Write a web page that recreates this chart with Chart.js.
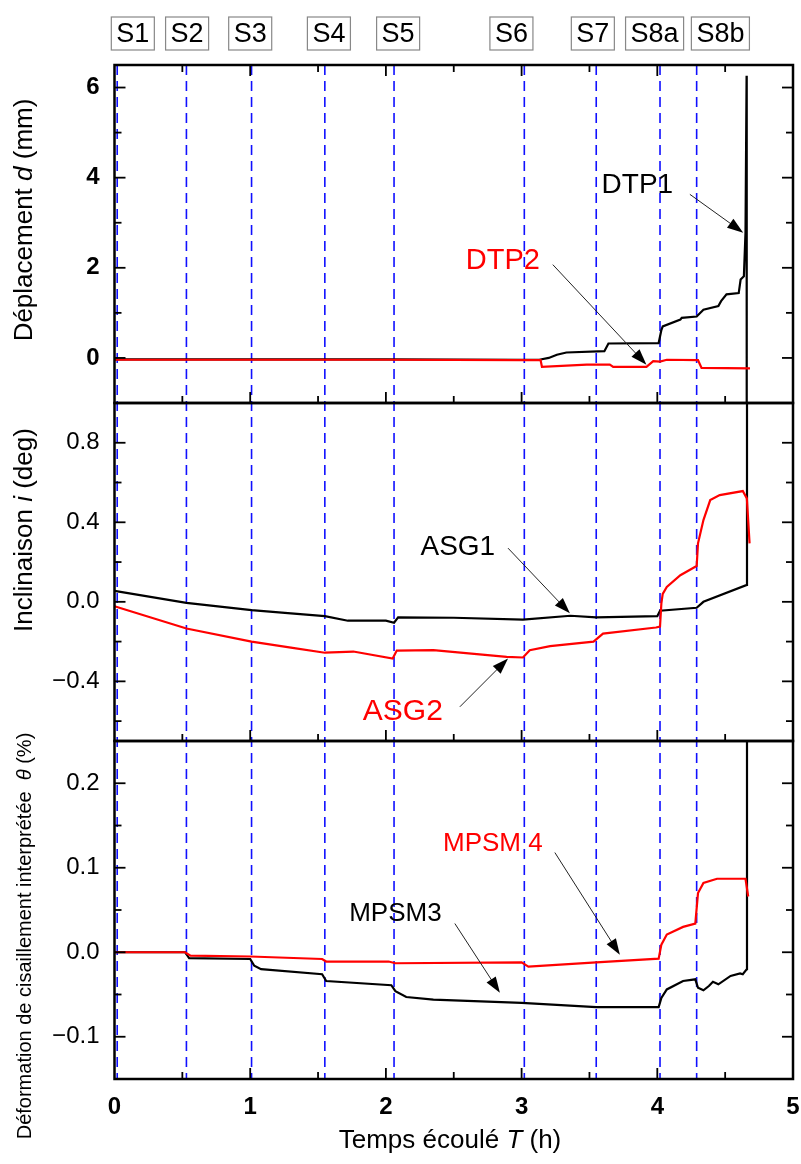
<!DOCTYPE html>
<html>
<head>
<meta charset="utf-8">
<script src="https://cdn.jsdelivr.net/npm/chart.js@4/dist/chart.umd.min.js"></script>
<style>
  html, body { margin: 0; padding: 0; background: #fff; }
  canvas { display: block; }
</style>
</head>
<body>
<canvas id="monitor" width="801" height="1164"></canvas>
<script>
// ============================================================
// Slope monitoring record - three stacked panels on one time axis
// ============================================================

// Loading stages (h)
const stageT = [0.02, 0.53, 1.01, 1.55, 2.06, 3.02, 3.55, 4.02, 4.29];
const stageNames = ['S1', 'S2', 'S3', 'S4', 'S5', 'S6', 'S7', 'S8a', 'S8b'];
const stageLabelT = [0.135, 0.535, 1.0, 1.58, 2.09, 2.925, 3.525, 3.98, 4.465];

// Displacement d (mm)
const dtp1T = [0, 1.0, 2.0, 3.0, 3.13, 3.2, 3.26, 3.33, 3.61, 3.64, 4.01, 4.03, 4.04, 4.17, 4.18, 4.29, 4.34, 4.45, 4.47, 4.51, 4.6, 4.614, 4.638, 4.65, 4.658, 4.659];
const dtp1 = [-0.03, -0.03, -0.03, -0.04, -0.04, 0.0, 0.07, 0.12, 0.15, 0.32, 0.33, 0.62, 0.70, 0.85, 0.89, 0.92, 1.07, 1.15, 1.26, 1.41, 1.44, 1.74, 1.81, 2.78, 6.26, -1.5];
const dtp2T = [0, 1.0, 2.0, 3.0, 3.14, 3.15, 3.48, 3.65, 3.675, 3.92, 3.97, 4.02, 4.07, 4.30, 4.326, 4.683];
const dtp2 = [-0.04, -0.04, -0.04, -0.05, -0.05, -0.2, -0.15, -0.15, -0.2, -0.2, -0.07, -0.08, -0.04, -0.05, -0.22, -0.23];

// Tilt i (deg)
const asg1T = [0, 0.53, 1.01, 1.3, 1.55, 1.72, 2.0, 2.06, 2.09, 2.5, 3.01, 3.36, 3.55, 4.0, 4.02, 4.29, 4.34, 4.66, 4.661];
const asg1 = [0.055, -0.005, -0.042, -0.058, -0.072, -0.095, -0.095, -0.105, -0.078, -0.08, -0.09, -0.07, -0.078, -0.072, -0.045, -0.03, 0.0, 0.085, 1.3];
const asg2T = [0, 0.53, 1.01, 1.3, 1.55, 1.76, 2.05, 2.08, 2.35, 2.89, 3.01, 3.06, 3.21, 3.53, 3.6, 3.99, 4.02, 4.03, 4.04, 4.07, 4.17, 4.28, 4.29, 4.30, 4.34, 4.39, 4.46, 4.63, 4.66, 4.68];
const asg2 = [-0.022, -0.134, -0.2, -0.23, -0.256, -0.25, -0.285, -0.245, -0.243, -0.277, -0.28, -0.243, -0.223, -0.2, -0.16, -0.129, -0.125, -0.008, 0.04, 0.075, 0.134, 0.176, 0.18, 0.294, 0.411, 0.512, 0.537, 0.557, 0.52, 0.294];

// Interpreted shear strain theta (%)
const mpsm3T = [0, 0.52, 0.55, 1.0, 1.03, 1.08, 1.53, 1.56, 2.04, 2.07, 2.15, 2.35, 3.0, 3.55, 4.01, 4.03, 4.07, 4.19, 4.28, 4.30, 4.34, 4.38, 4.41, 4.45, 4.54, 4.61, 4.63, 4.66, 4.661];
const mpsm3 = [0.0, 0.0, -0.007, -0.008, -0.016, -0.02, -0.026, -0.034, -0.039, -0.046, -0.053, -0.056, -0.06, -0.065, -0.065, -0.054, -0.044, -0.034, -0.032, -0.042, -0.045, -0.04, -0.035, -0.038, -0.028, -0.025, -0.026, -0.02, 0.3];
const mpsm4T = [0, 0.52, 0.56, 1.0, 1.53, 1.56, 2.02, 2.07, 3.0, 3.05, 3.55, 4.01, 4.03, 4.07, 4.19, 4.28, 4.30, 4.34, 4.44, 4.65, 4.67];
const mpsm4 = [0.0, 0.0, -0.004, -0.005, -0.008, -0.011, -0.011, -0.013, -0.012, -0.017, -0.012, -0.0075, 0.009, 0.021, 0.03, 0.034, 0.07, 0.082, 0.087, 0.087, 0.066];

// Series labels with their leader arrows: [text, colour, size, axis, tx, ty, fromX, fromY, toX, toY]
const callouts = [
    ['DTP1', '#000', 28, 'yD', 3.853, 3.83, 4.24, 3.63, 4.633, 2.78],
    ['DTP2', '#f00', 29, 'yD', 2.862, 2.16, 3.23, 2.07, 3.92, -0.15],
    ['ASG1', '#000', 28, 'yI', 2.53, 0.275, 2.90, 0.27, 3.356, -0.058],
    ['ASG2', '#f00', 30, 'yI', 2.125, -0.555, 2.545, -0.528, 2.90, -0.285],
    ['MPSM 4', '#f00', 26, 'yS', 2.788, 0.128, 3.245, 0.118, 3.724, -0.003],
    ['MPSM3', '#000', 26, 'yS', 2.07, 0.045, 2.508, 0.034, 2.84, -0.048]
];

const FONT = "'Liberation Sans', Arial, sans-serif";
const NARROW = "'Liberation Sans Narrow', 'Liberation Sans', Arial, sans-serif";

function toXY(ts, vs) {
    return ts.map((t, i) => ({ x: t, y: vs[i] }));
}

function series(label, ts, vs, axis, color) {
    return {
        label: label,
        data: toXY(ts, vs),
        yAxisID: axis,
        borderColor: color,
        borderWidth: 2.2,
        pointRadius: 0,
        tension: 0,
        fill: false
    };
}

function minus(s) {
    return s.replace('-', '\u2212');
}

// y panel: no built-in grid/border, labels only on major steps
function panelAxis(min, max, step, major, fmt, weight) {
    return {
        type: 'linear',
        position: 'left',
        stack: 'panels',
        stackWeight: 1,
        min: min,
        max: max,
        grid: { display: false, drawTicks: false },
        border: { display: false },
        ticks: {
            stepSize: step,
            includeBounds: false,
            padding: 15,
            color: '#000',
            autoSkip: false,
            font: { family: FONT, size: 24, weight: weight },
            callback: (v) => {
                const k = v / major;
                return Math.abs(k - Math.round(k)) < 1e-6 ? minus(fmt(v)) : '';
            }
        },
        afterFit: (s) => { s.width = 114.5; }
    };
}

function onStep(v, step) {
    const k = v / step;
    return Math.abs(k - Math.round(k)) < 1e-6;
}

function line(ctx, x1, y1, x2, y2) {
    ctx.beginPath();
    ctx.moveTo(x1, y1);
    ctx.lineTo(x2, y2);
    ctx.stroke();
}

// Text made of upright and italic pieces, centred on (x, y)
function drawRich(ctx, parts, x, y, size, angle) {
    ctx.save();
    ctx.translate(x, y);
    ctx.rotate(angle);
    const fontOf = (p) => (p[1] ? 'italic ' : '') + size + 'px ' + FONT;
    let total = 0;
    parts.forEach(p => { ctx.font = fontOf(p); total += ctx.measureText(p[0]).width; });
    let cx = -total / 2;
    ctx.textAlign = 'left';
    ctx.textBaseline = 'middle';
    ctx.fillStyle = '#000';
    parts.forEach(p => {
        ctx.font = fontOf(p);
        ctx.fillText(p[0], cx, 0);
        cx += ctx.measureText(p[0]).width;
    });
    ctx.restore();
}

function arrow(ctx, x1, y1, x2, y2) {
    const ang = Math.atan2(y2 - y1, x2 - x1);
    const len = 16, half = 5.5;
    ctx.strokeStyle = '#222';
    ctx.lineWidth = 1;
    line(ctx, x1, y1, x2 - Math.cos(ang) * len * 0.8, y2 - Math.sin(ang) * len * 0.8);
    ctx.fillStyle = '#000';
    ctx.beginPath();
    ctx.moveTo(x2, y2);
    ctx.lineTo(x2 - Math.cos(ang) * len - Math.sin(ang) * half, y2 - Math.sin(ang) * len + Math.cos(ang) * half);
    ctx.lineTo(x2 - Math.cos(ang) * len + Math.sin(ang) * half, y2 - Math.sin(ang) * len - Math.cos(ang) * half);
    ctx.closePath();
    ctx.fill();
}

const panelSteps = { yD: 1, yI: 0.2, yS: 0.05 };

const panelDecor = {
    id: 'panelDecor',
    beforeDatasetsDraw(chart) {
        const ctx = chart.ctx, x = chart.scales.x, a = chart.chartArea;
        // stage boundaries
        ctx.save();
        ctx.strokeStyle = '#1010ff';
        ctx.lineWidth = 1.6;
        ctx.setLineDash([10, 6]);
        stageT.forEach(t => {
            const px = x.getPixelForValue(t);
            line(ctx, px, a.top, px, a.bottom);
        });
        ctx.restore();
    },
    beforeDatasetDraw(chart, args) {
        // keep each series inside its own panel
        const ds = chart.data.datasets[args.index];
        const ys = chart.scales[ds.yAxisID];
        const a = chart.chartArea;
        chart.ctx.save();
        chart.ctx.beginPath();
        chart.ctx.rect(a.left, ys.top, a.right - a.left, ys.bottom - ys.top);
        chart.ctx.clip();
    },
    afterDatasetDraw(chart) {
        chart.ctx.restore();
    },
    afterDraw(chart) {
        const ctx = chart.ctx, x = chart.scales.x, a = chart.chartArea;
        ctx.save();
        ctx.strokeStyle = '#000';

        ['yD', 'yI', 'yS'].forEach((id, n) => {
            const s = chart.scales[id];
            const step = panelSteps[id];
            ctx.lineWidth = 1.8;
            // y ticks, both sides, pointing inward
            s.ticks.forEach(t => {
                if (!onStep(t.value, step)) return;
                const py = s.getPixelForValue(t.value);
                if (py < s.top + 2 || py > s.bottom - 2) return;
                const len = t.label !== '' ? 11 : 7;
                line(ctx, a.left, py, a.left + len, py);
                line(ctx, a.right, py, a.right - len, py);
            });
            // x ticks along the panel bottom (and the very top)
            x.ticks.forEach(t => {
                if (!onStep(t.value, 0.5)) return;
                const px = x.getPixelForValue(t.value);
                if (px < a.left + 2 || px > a.right - 2) return;
                const len = t.label !== '' ? 11 : 7;
                line(ctx, px, s.bottom, px, s.bottom - len);
                if (n === 0) line(ctx, px, s.top, px, s.top + len);
            });
            ctx.lineWidth = 2.5;
            ctx.strokeRect(a.left, s.top, a.right - a.left, s.bottom - s.top);
        });

        // stage names above the plot
        ctx.font = '27px ' + NARROW;
        ctx.textAlign = 'center';
        ctx.textBaseline = 'middle';
        stageNames.forEach((name, i) => {
            const cx = x.getPixelForValue(stageLabelT[i]);
            const w = Math.max(40, ctx.measureText(name).width + 10);
            ctx.fillStyle = '#fff';
            ctx.fillRect(cx - w / 2, 17, w, 33);
            ctx.strokeStyle = '#888';
            ctx.lineWidth = 1.2;
            ctx.strokeRect(cx - w / 2, 17, w, 33);
            ctx.fillStyle = '#000';
            ctx.fillText(name, cx, 34.5);
        });

        // series callouts
        callouts.forEach(c => {
            const ys = chart.scales[c[3]];
            ctx.font = c[2] + 'px ' + FONT;
            ctx.fillStyle = c[1];
            ctx.textAlign = 'center';
            ctx.textBaseline = 'middle';
            ctx.fillText(c[0], x.getPixelForValue(c[4]), ys.getPixelForValue(c[5]));
            arrow(ctx, x.getPixelForValue(c[6]), ys.getPixelForValue(c[7]),
                x.getPixelForValue(c[8]), ys.getPixelForValue(c[9]));
        });

        // axis titles
        drawRich(ctx, [['D\u00e9placement ', false], ['d', true], [' (mm)', false]], 25, 220, 26, -Math.PI / 2);
        drawRich(ctx, [['Inclinaison ', false], ['i', true], [' (deg)', false]], 25, 530, 26, -Math.PI / 2);
        drawRich(ctx, [['D\u00e9formation de cisaillement interpr\u00e9t\u00e9e  ', false], ['\u03b8', true], [' (%)', false]], 25, 936, 20, -Math.PI / 2);
        drawRich(ctx, [['Temps \u00e9coul\u00e9 ', false], ['T', true], [' (h)', false]], 450, 1141, 26, 0);
        ctx.restore();
    }
};

// Chart.js paints the first dataset last, so the red series come first to sit on top
const chart = new Chart(document.getElementById('monitor').getContext('2d'), {
    type: 'line',
    data: {
        datasets: [
            series('DTP2', dtp2T, dtp2, 'yD', '#f00'),
            series('DTP1', dtp1T, dtp1, 'yD', '#000'),
            series('ASG2', asg2T, asg2, 'yI', '#f00'),
            series('ASG1', asg1T, asg1, 'yI', '#000'),
            series('MPSM 4', mpsm4T, mpsm4, 'yS', '#f00'),
            series('MPSM3', mpsm3T, mpsm3, 'yS', '#000')
        ]
    },
    options: {
        responsive: false,
        animation: false,
        events: [],
        layout: { padding: { top: 65, right: 8, bottom: 0, left: 0 } },
        plugins: { legend: { display: false }, tooltip: { enabled: false } },
        scales: {
            x: {
                type: 'linear',
                position: 'bottom',
                min: 0,
                max: 5,
                grid: { display: false, drawTicks: false },
                border: { display: false },
                ticks: {
                    stepSize: 0.5,
                    padding: 14,
                    autoSkip: false,
                    maxRotation: 0,
                    color: '#000',
                    font: { family: FONT, size: 24, weight: 'bold' },
                    callback: (v) => Number.isInteger(v) ? String(v) : ''
                },
                afterFit: (s) => {
                    s.height = 85;
                    s.paddingLeft = 0;
                    s.paddingRight = 0;
                }
            },
            // stacked bottom-up
            yS: panelAxis(-0.15, 0.25, 0.05, 0.1, v => v.toFixed(1), 'normal'),
            yI: panelAxis(-0.7, 1.0, 0.2, 0.4, v => v.toFixed(1), 'normal'),
            yD: panelAxis(-1, 6.5, 1, 2, v => String(Math.round(v)), 'bold')
        }
    },
    plugins: [panelDecor]
});
</script>
</body>
</html>
